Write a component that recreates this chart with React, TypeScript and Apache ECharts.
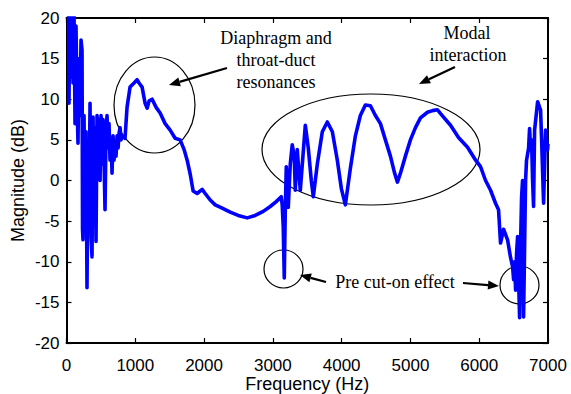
import React, { useEffect, useRef } from "react";
import * as echarts from "echarts";

const freqHz = [
  29, 36, 51, 65, 80, 95, 109, 124, 138, 153,
  167, 182, 196, 211, 226, 233, 240, 255, 269, 284,
  298, 313, 327, 342, 357, 371, 386, 400, 415, 429,
  444, 458, 473, 488, 502, 517, 531, 546, 560, 575,
  589, 604, 618, 633, 648, 662, 677, 691, 706, 720,
  735, 750, 764, 779, 793, 808,
  851, 880, 924, 982, 1026, 1055, 1099, 1143, 1172, 1201,
  1245, 1303, 1361, 1434, 1507, 1579, 1652, 1710, 1754, 1798,
  1841, 1899, 1972, 2016, 2089, 2162, 2263, 2380, 2496, 2627,
  2743, 2860, 2962, 3049, 3122, 3136, 3151, 3166, 3180, 3195,
  3209, 3224, 3253, 3282, 3311, 3326, 3355, 3370, 3399, 3428,
  3472, 3515, 3559, 3588, 3646, 3719, 3792, 3865, 3937, 3996,
  4054, 4127, 4200, 4272, 4345, 4418, 4491, 4564, 4636, 4709,
  4767, 4811, 4855, 4927, 5000, 5073, 5146, 5248, 5321, 5393,
  5481, 5583, 5699, 5830, 5932, 6019, 6092, 6165, 6237, 6281,
  6310, 6354, 6412, 6456, 6485, 6500, 6514, 6529, 6543, 6558,
  6572, 6587, 6601, 6616, 6630, 6645, 6660, 6674, 6688, 6718,
  6732, 6747, 6761, 6776, 6790, 6805, 6834, 6849, 6878, 6892,
  6907, 6936, 6965, 6980, 6994, 7000,
];

const magnitudeDb = [
  25, 9.5, 24, 12.7, 22, 12, 21, 7, 19, 10,
  4.6, 15, 8, 17.3, 16, -6, -7.3, 8, -5, 6,
  -13.2, 4, -4, 9.5, -7, -9.4, 7.8, -3, 6.5, -7.5,
  8, 2.5, 7.5, 0, 8, 2, 7.5, 2.5, -3.6, 6,
  8, 4, 7, 2.5, 5, 0.9, 5.5, 2.5, 4.5, 3,
  5.5, 4, 5.8, 6.5, 5, 5.5,
  5.2, 9, 11.5, 12, 12.4, 12, 11.5, 9.5, 8.9, 9.8,
  10, 9, 8.3, 7, 6.2, 5.2, 5.0, 3.8, 2.5, 0.8,
  -1.3, -1.6, -1.1, -1.6, -2.4, -3.0, -3.4, -3.9, -4.3, -4.6,
  -4.3, -3.8, -3.2, -2.6, -2.0, -3, -5.7, -12.0, -4, 1.7,
  -1, -3.3, 2, 4.4, 3, -1.2, 3.8, 2, -1.2, 2,
  6.8, 4, 0, -2.0, 2, 6, 7.2, 6, 2.5, -1,
  -3.0, 1.5, 5.5, 8, 9.3, 9.2, 8, 7, 5, 3,
  1, -0.2, 0.9, 3, 5, 6.5, 7.7, 8.4, 8.6, 8.7,
  7.8, 6.8, 5.3, 4.1, 2.7, 1.7, 0, -1.2, -2.8, -3.6,
  -7.7, -6, -7.3, -9.5, -10.6, -12.2, -10, -13.5, -9, -6.9,
  -12, -16.9, -8, -2, 0, -16.8, -8, 0, 2.5, 4,
  6.4, 3.8, 5, 0, -3.2, 6.2, 8.5, 9.7, 9, 8.7,
  5, -2.8, 6.2, 5, 3.8, 4.5,
];

const xTickValues = [0, 1000, 2000, 3000, 4000, 5000, 6000, 7000];
const yTickValues = [-20, -15, -10, -5, 0, 5, 10, 15, 20];

const annotationTexts = {
  diaphragm: ["Diaphragm and", "throat-duct", "resonances"],
  modal: ["Modal", "interaction"],
  precut: "Pre cut-on effect",
};

const SANS = '"Liberation Sans", Arial, Helvetica, sans-serif';
const SERIF = '"Liberation Serif", "Times New Roman", Times, serif';

function arrow(x1: number, y1: number, x2: number, y2: number) {
  const dx = x2 - x1;
  const dy = y2 - y1;
  const len = Math.sqrt(dx * dx + dy * dy);
  const ux = dx / len;
  const uy = dy / len;
  const headLen = 11;
  const headW = 4.5;
  const bx = x2 - ux * headLen;
  const by = y2 - uy * headLen;
  return [
    {
      type: "line",
      shape: { x1, y1, x2: bx, y2: by },
      style: { stroke: "#000", lineWidth: 2.2 },
      silent: true,
    },
    {
      type: "polygon",
      shape: {
        points: [
          [x2, y2],
          [bx - uy * headW, by + ux * headW],
          [bx + uy * headW, by - ux * headW],
        ],
      },
      style: { fill: "#000" },
      silent: true,
    },
  ];
}

function ellipse(cx: number, cy: number, rx: number, ry: number) {
  return {
    type: "ellipse",
    shape: { cx, cy, rx, ry },
    style: { fill: "none", stroke: "#000", lineWidth: 1.2 },
    silent: true,
  };
}

function label(text: string, x: number, y: number) {
  return {
    type: "text",
    x,
    y,
    style: {
      text,
      fill: "#000",
      fontSize: 18,
      fontFamily: SERIF,
      align: "center",
      verticalAlign: "middle",
    },
    silent: true,
  };
}

export default function App() {
  const ref = useRef<HTMLDivElement>(null);

  useEffect(() => {
    if (!ref.current) return;
    const chart = echarts.init(ref.current, null, { renderer: "svg" });
    const data = freqHz.map((f, i) => [f, magnitudeDb[i]]);
    const xMin = xTickValues[0];
    const xMax = xTickValues[xTickValues.length - 1];
    const yMin = yTickValues[0];
    const yMax = yTickValues[yTickValues.length - 1];

    const axisLine = { show: true, onZero: false, lineStyle: { color: "#000", width: 2 } };
    const axisTick = { show: true, inside: true, length: 5, lineStyle: { color: "#000", width: 1.2 } };

    const graphics: any[] = [
      ellipse(154.5, 105, 40.5, 48),
      ...arrow(227, 68, 169, 85),
      label(annotationTexts.diaphragm[0], 276, 38),
      label(annotationTexts.diaphragm[1], 276, 60),
      label(annotationTexts.diaphragm[2], 276, 82),
      ellipse(371, 149.5, 109, 55.5),
      ...arrow(455, 67, 419, 84),
      label(annotationTexts.modal[0], 467, 33),
      label(annotationTexts.modal[1], 468, 55),
      ellipse(283.5, 269, 19.5, 19),
      ...arrow(326, 282, 300, 275),
      label(annotationTexts.precut, 395, 282),
      ...arrow(463, 283, 499, 286),
      ellipse(519.5, 285, 19.5, 19),
    ];

    chart.setOption({
      animation: false,
      backgroundColor: "#fff",
      grid: {
        left: 66.5,
        right: 23,
        top: 18,
        bottom: 51,
        containLabel: false,
        outerBoundsMode: "none",
      },
      xAxis: [
        {
          type: "value",
          position: "bottom",
          min: xMin,
          max: xMax,
          interval: 1000,
          name: "Frequency (Hz)",
          nameLocation: "middle",
          nameGap: 32,
          nameMoveOverlap: false,
          nameTextStyle: { color: "#000", fontSize: 18, fontFamily: SANS },
          axisLine,
          axisTick,
          axisLabel: {
            color: "#000",
            fontSize: 17,
            fontFamily: SANS,
            margin: 14,
            formatter: (v: number) => String(v),
          },
          splitLine: { show: false },
        },
        {
          type: "value",
          position: "top",
          min: xMin,
          max: xMax,
          interval: 1000,
          axisLine,
          axisTick,
          axisLabel: { show: false },
          splitLine: { show: false },
        },
      ],
      yAxis: [
        {
          type: "value",
          position: "left",
          min: yMin,
          max: yMax,
          interval: 5,
          name: "Magnitude (dB)",
          nameLocation: "middle",
          nameGap: 40,
          nameRotate: 90,
          nameMoveOverlap: false,
          nameTextStyle: { color: "#000", fontSize: 18, fontFamily: SANS },
          axisLine,
          axisTick,
          axisLabel: {
            color: "#000",
            fontSize: 17,
            fontFamily: SANS,
            margin: 7,
            formatter: (v: number) => String(v),
          },
          splitLine: { show: false },
        },
        {
          type: "value",
          position: "right",
          min: yMin,
          max: yMax,
          interval: 5,
          axisLine,
          axisTick,
          axisLabel: { show: false },
          splitLine: { show: false },
        },
      ],
      series: [
        {
          type: "line",
          xAxisIndex: 0,
          yAxisIndex: 0,
          data,
          showSymbol: false,
          clip: true,
          lineStyle: { color: "#0000ff", width: 3.6, join: "round" },
          z: 2,
        },
      ],
      graphic: graphics,
    });

    return () => chart.dispose();
  }, []);

  return (
    <div
      ref={ref}
      style={{ position: "absolute", left: 0, top: 0, width: 571, height: 394 }}
    />
  );
}
